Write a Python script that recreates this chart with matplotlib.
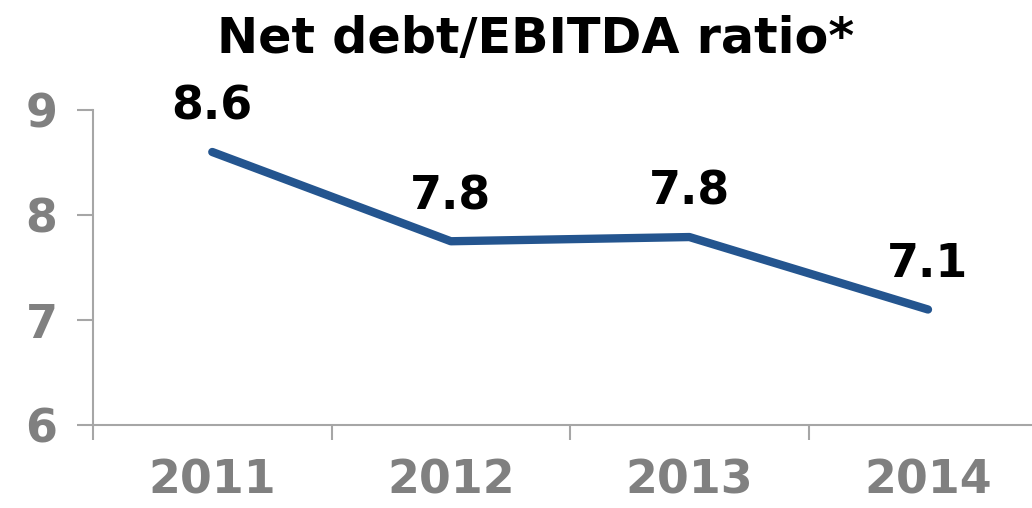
import matplotlib
matplotlib.use("Agg")
import matplotlib.pyplot as plt
from matplotlib.ticker import FixedLocator, NullFormatter

years = ["2011", "2012", "2013", "2014"]
ratio = [8.6, 7.75, 7.79, 7.1]
yticks = [6, 7, 8, 9]

LINE = "#24558f"
GREY = "#808080"
SPINE = "#a6a6a6"

plt.rcParams["font.family"] = "DejaVu Sans"
plt.rcParams["font.weight"] = "bold"

fig = plt.figure(figsize=(10.32, 5.08), dpi=100)
ax = fig.add_axes([93 / 1032, 83 / 508, (1032 - 93) / 1032, (425 - 110) / 508])

xs = list(range(len(years)))
ax.plot(xs, ratio, color=LINE, lw=6, solid_capstyle="round", solid_joinstyle="round")

for x, v in zip(xs, ratio):
    ax.annotate(f"{v:.1f}", (x, v), xytext=(0, 16), textcoords="offset points",
                ha="center", va="bottom", fontsize=33, fontweight="bold", color="black")

ax.set_xlim(-0.5, 3.436)
ax.set_ylim(6, 9)

# y axis: grey labels, outward ticks
ax.set_yticks(yticks)
ax.set_yticklabels([str(t) for t in yticks])
ax.tick_params(axis="y", direction="out", length=11.5, width=1.5, color=SPINE,
               labelsize=33, labelcolor=GREY, pad=14)

# x axis: ticks on category boundaries, labels at centres
ax.xaxis.set_major_locator(FixedLocator([-0.5, 0.5, 1.5, 2.5]))
ax.xaxis.set_major_formatter(NullFormatter())
ax.xaxis.set_minor_locator(FixedLocator(xs))
ax.set_xticklabels(years, minor=True)
ax.tick_params(axis="x", which="major", direction="out", length=11, width=1.5, color=SPINE)
ax.tick_params(axis="x", which="minor", length=0, labelsize=33, labelcolor=GREY, pad=24)
for lab in ax.get_xticklabels(minor=True):
    lab.set_fontweight("bold")
for lab in ax.get_yticklabels():
    lab.set_fontweight("bold")

for side in ["top", "right"]:
    ax.spines[side].set_visible(False)
for side in ["left", "bottom"]:
    ax.spines[side].set_color(SPINE)
    ax.spines[side].set_linewidth(1.5)

fig.text(536 / 1032, 1 - 53 / 508, "Net debt/EBITDA ratio*", ha="center", va="baseline",
         fontsize=35.5, fontweight="bold", color="black")

fig.savefig("out.png", dpi=100)
